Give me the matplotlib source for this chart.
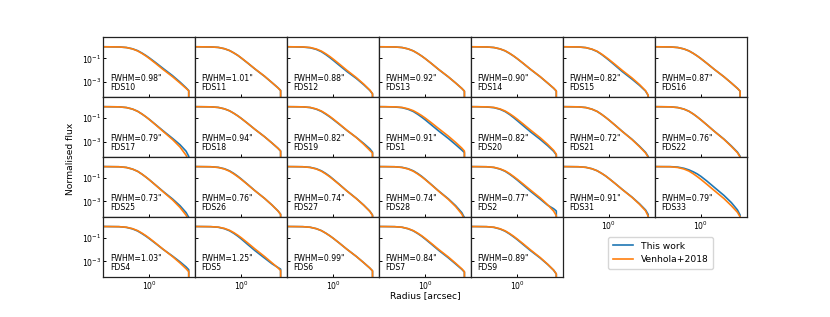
import numpy as np
import matplotlib
matplotlib.use("Agg")
import matplotlib.pyplot as plt

# Shared radius grid [arcsec]; last point repeats to draw the vertical drop
radius = [0.2, 0.3, 0.4, 0.5, 0.6, 0.7, 0.8, 0.9, 1.0, 1.2, 1.5, 2.0, 2.5, 3.0, 3.25, 3.25]

fields = ["FDS10", "FDS11", "FDS12", "FDS13", "FDS14", "FDS15", "FDS16",
          "FDS17", "FDS18", "FDS19", "FDS1", "FDS20", "FDS21", "FDS22",
          "FDS25", "FDS26", "FDS27", "FDS28", "FDS2", "FDS31", "FDS33",
          "FDS4", "FDS5", "FDS6", "FDS7", "FDS9"]

fwhm = [0.98, 1.01, 0.88, 0.92, 0.90, 0.82, 0.87,
        0.79, 0.94, 0.82, 0.91, 0.82, 0.72, 0.76,
        0.73, 0.76, 0.74, 0.74, 0.77, 0.91, 0.79,
        1.03, 1.25, 0.99, 0.84, 0.89]

# log10 of normalised flux, Venhola+2018
logflux_venhola = [
    [0, -0.01, -0.02, -0.07, -0.19, -0.36, -0.58, -0.80, -1.02, -1.43, -1.95, -2.58, -3.12, -3.58, -3.79, -8],
    [0, -0.01, -0.02, -0.06, -0.17, -0.33, -0.54, -0.75, -0.97, -1.38, -1.90, -2.53, -3.08, -3.54, -3.77, -8],
    [0, -0.01, -0.02, -0.07, -0.20, -0.38, -0.61, -0.84, -1.07, -1.49, -2.02, -2.66, -3.22, -3.73, -4.05, -8],
    [0, -0.01, -0.02, -0.07, -0.19, -0.36, -0.58, -0.80, -1.02, -1.43, -1.95, -2.58, -3.12, -3.58, -3.82, -8],
    [0, -0.01, -0.02, -0.07, -0.19, -0.35, -0.57, -0.79, -1.01, -1.42, -1.94, -2.57, -3.11, -3.56, -3.81, -8],
    [0, -0.01, -0.02, -0.08, -0.21, -0.39, -0.63, -0.87, -1.10, -1.52, -2.05, -2.69, -3.25, -3.78, -4.17, -8],
    [0, -0.01, -0.02, -0.07, -0.19, -0.36, -0.58, -0.80, -1.02, -1.43, -1.95, -2.58, -3.12, -3.58, -3.82, -8],
    [0, -0.01, -0.02, -0.08, -0.21, -0.40, -0.64, -0.88, -1.12, -1.56, -2.12, -2.83, -3.47, -4.18, -4.67, -8],
    [0, -0.01, -0.02, -0.07, -0.19, -0.36, -0.58, -0.80, -1.02, -1.43, -1.95, -2.58, -3.12, -3.58, -3.82, -8],
    [0, -0.01, -0.02, -0.07, -0.20, -0.38, -0.61, -0.84, -1.07, -1.49, -2.02, -2.66, -3.24, -3.76, -3.99, -8],
    [0, -0.01, -0.02, -0.07, -0.19, -0.35, -0.56, -0.77, -0.98, -1.38, -1.89, -2.53, -3.08, -3.56, -3.82, -8],
    [0, -0.01, -0.02, -0.07, -0.20, -0.38, -0.61, -0.84, -1.07, -1.49, -2.02, -2.67, -3.24, -3.76, -4.09, -8],
    [0, -0.01, -0.02, -0.08, -0.22, -0.41, -0.66, -0.91, -1.15, -1.59, -2.15, -2.83, -3.44, -3.98, -4.35, -8],
    [0, -0.01, -0.02, -0.08, -0.21, -0.40, -0.64, -0.89, -1.13, -1.57, -2.13, -2.81, -3.42, -3.96, -4.33, -8],
    [0, -0.01, -0.02, -0.08, -0.22, -0.41, -0.66, -0.91, -1.15, -1.60, -2.16, -2.87, -3.52, -4.18, -4.62, -8],
    [0, -0.01, -0.02, -0.08, -0.21, -0.40, -0.64, -0.88, -1.11, -1.54, -2.08, -2.73, -3.30, -3.82, -4.12, -8],
    [0, -0.01, -0.02, -0.08, -0.21, -0.40, -0.64, -0.88, -1.12, -1.55, -2.10, -2.76, -3.33, -3.86, -4.19, -8],
    [0, -0.01, -0.02, -0.08, -0.21, -0.40, -0.64, -0.88, -1.12, -1.56, -2.12, -2.81, -3.44, -4.08, -4.52, -8],
    [0, -0.01, -0.02, -0.07, -0.20, -0.38, -0.61, -0.85, -1.08, -1.50, -2.03, -2.69, -3.28, -3.83, -4.22, -8],
    [0, -0.01, -0.02, -0.07, -0.19, -0.36, -0.58, -0.80, -1.03, -1.45, -1.99, -2.65, -3.24, -3.80, -4.27, -8],
    [0, -0.01, -0.02, -0.08, -0.21, -0.39, -0.63, -0.87, -1.10, -1.53, -2.07, -2.75, -3.37, -3.93, -4.32, -8],
    [0, -0.01, -0.02, -0.07, -0.19, -0.36, -0.58, -0.80, -1.02, -1.43, -1.95, -2.59, -3.14, -3.63, -3.89, -8],
    [0, -0.01, -0.02, -0.06, -0.17, -0.33, -0.54, -0.76, -0.98, -1.40, -1.93, -2.58, -3.12, -3.56, -3.79, -8],
    [0, -0.01, -0.02, -0.07, -0.19, -0.36, -0.58, -0.80, -1.02, -1.43, -1.95, -2.58, -3.12, -3.58, -3.82, -8],
    [0, -0.01, -0.02, -0.07, -0.19, -0.36, -0.58, -0.80, -1.03, -1.45, -1.98, -2.62, -3.17, -3.64, -3.89, -8],
    [0, -0.01, -0.02, -0.07, -0.20, -0.38, -0.61, -0.84, -1.07, -1.49, -2.02, -2.67, -3.24, -3.76, -4.07, -8],
]

# log10 of normalised flux, this work
logflux_this = [
    [0, -0.01, -0.02, -0.07, -0.18, -0.34, -0.55, -0.76, -0.97, -1.36, -1.86, -2.49, -3.04, -3.53, -3.77, -8],
    [0, -0.01, -0.02, -0.06, -0.17, -0.33, -0.54, -0.75, -0.98, -1.39, -1.91, -2.54, -3.08, -3.53, -3.76, -8],
    [0, -0.01, -0.03, -0.09, -0.23, -0.43, -0.68, -0.93, -1.17, -1.60, -2.12, -2.73, -3.27, -3.76, -4.05, -8],
    [0, -0.01, -0.02, -0.07, -0.19, -0.36, -0.58, -0.80, -1.02, -1.43, -1.96, -2.59, -3.12, -3.58, -3.82, -8],
    [0, -0.01, -0.02, -0.07, -0.19, -0.36, -0.58, -0.80, -1.02, -1.43, -1.95, -2.58, -3.12, -3.57, -3.81, -8],
    [0, -0.01, -0.02, -0.08, -0.22, -0.41, -0.66, -0.92, -1.16, -1.60, -2.15, -2.79, -3.32, -3.81, -4.19, -8],
    [0, -0.01, -0.02, -0.07, -0.19, -0.36, -0.58, -0.80, -1.02, -1.43, -1.95, -2.58, -3.12, -3.58, -3.82, -8],
    [0, -0.01, -0.02, -0.08, -0.21, -0.40, -0.64, -0.88, -1.11, -1.54, -2.07, -2.73, -3.27, -3.83, -4.27, -8],
    [0, -0.01, -0.02, -0.07, -0.19, -0.36, -0.58, -0.80, -1.02, -1.43, -1.95, -2.58, -3.12, -3.58, -3.82, -8],
    [0, -0.01, -0.02, -0.08, -0.22, -0.41, -0.65, -0.88, -1.11, -1.52, -2.04, -2.65, -3.17, -3.63, -3.92, -8],
    [0, -0.01, -0.03, -0.09, -0.23, -0.42, -0.66, -0.90, -1.13, -1.56, -2.09, -2.73, -3.27, -3.73, -3.95, -8],
    [0, -0.01, -0.03, -0.09, -0.23, -0.43, -0.68, -0.94, -1.19, -1.63, -2.17, -2.81, -3.35, -3.84, -4.15, -8],
    [0, -0.01, -0.02, -0.08, -0.22, -0.41, -0.66, -0.91, -1.15, -1.59, -2.14, -2.81, -3.40, -3.93, -4.29, -8],
    [0, -0.01, -0.02, -0.08, -0.21, -0.40, -0.64, -0.89, -1.13, -1.57, -2.12, -2.79, -3.38, -3.91, -4.27, -8],
    [0, -0.01, -0.02, -0.08, -0.22, -0.41, -0.66, -0.91, -1.15, -1.59, -2.13, -2.79, -3.37, -3.96, -4.37, -8],
    [0, -0.01, -0.02, -0.07, -0.19, -0.37, -0.60, -0.84, -1.08, -1.52, -2.07, -2.73, -3.30, -3.81, -4.10, -8],
    [0, -0.01, -0.02, -0.07, -0.19, -0.37, -0.60, -0.84, -1.09, -1.53, -2.09, -2.75, -3.32, -3.84, -4.17, -8],
    [0, -0.01, -0.02, -0.07, -0.19, -0.37, -0.60, -0.84, -1.09, -1.54, -2.10, -2.77, -3.37, -3.96, -4.39, -8],
    [0, -0.01, -0.02, -0.08, -0.22, -0.41, -0.66, -0.91, -1.15, -1.59, -2.13, -2.79, -3.32, -3.63, -3.82, -8],
    [0, -0.01, -0.02, -0.07, -0.19, -0.36, -0.58, -0.80, -1.03, -1.45, -1.98, -2.63, -3.20, -3.73, -4.12, -8],
    [0, -0.01, -0.01, -0.05, -0.15, -0.29, -0.46, -0.64, -0.84, -1.25, -1.79, -2.48, -3.10, -3.73, -4.17, -8],
    [0, -0.01, -0.02, -0.08, -0.21, -0.39, -0.62, -0.84, -1.06, -1.46, -1.96, -2.55, -3.04, -3.48, -3.72, -8],
    [0, -0.01, -0.02, -0.07, -0.19, -0.37, -0.60, -0.84, -1.08, -1.53, -2.07, -2.71, -3.20, -3.53, -3.67, -8],
    [0, -0.01, -0.02, -0.07, -0.19, -0.36, -0.58, -0.80, -1.02, -1.43, -1.95, -2.58, -3.12, -3.58, -3.82, -8],
    [0, -0.01, -0.02, -0.07, -0.20, -0.38, -0.61, -0.84, -1.08, -1.51, -2.05, -2.69, -3.23, -3.68, -3.92, -8],
    [0, -0.01, -0.02, -0.08, -0.22, -0.41, -0.65, -0.89, -1.12, -1.55, -2.08, -2.71, -3.26, -3.76, -4.09, -8],
]

C_THIS = "#1f77b4"
C_VEN = "#ff7f0e"

fig, axes = plt.subplots(4, 7, figsize=(8.3, 3.17), dpi=100, sharex=True, sharey=True)
fig.subplots_adjust(left=0.1245, right=0.8995, top=0.882, bottom=0.126, wspace=0, hspace=0)

r = np.array(radius)
for i, ax in enumerate(axes.flat):
    if i >= len(fields):
        ax.set_visible(False)
        continue
    ax.plot(r, 10 ** np.array(logflux_this[i]), color=C_THIS, lw=1.2, label="This work")
    ax.plot(r, 10 ** np.array(logflux_venhola[i]), color=C_VEN, lw=1.2, label="Venhola+2018")
    ax.text(0.07, 0.09, 'FWHM=%.2f"\n%s' % (fwhm[i], fields[i]), transform=ax.transAxes,
            ha="left", va="bottom", fontsize=5.6, linespacing=1.0)
    for s in ax.spines.values():
        s.set_linewidth(0.9)
        s.set_color("#222222")

ax0 = axes[0, 0]
ax0.set_xscale("log")
ax0.set_yscale("log")
ax0.set_xlim(0.25, 3.95)
ax0.set_ylim(10 ** -4.35, 10 ** 0.8)
ax0.set_yticks([1e-1, 1e-3])
ax0.set_yticks([], minor=True)
ax0.set_xticks([1.0])
ax0.set_xticks([], minor=True)
ax0.set_yticklabels([r"$10^{-1}$", r"$10^{-3}$"])
ax0.set_xticklabels([r"$10^{0}$"])

for ax in axes.flat:
    ax.tick_params(direction="in", length=2.5, width=0.7, labelsize=5.6, pad=1.5)
    ax.minorticks_off()

for c in (5, 6):
    axes[2, c].xaxis.set_tick_params(labelbottom=True)

handles, labels = axes[0, 0].get_legend_handles_labels()
fig.legend(handles, labels, loc="center", bbox_to_anchor=(0.796, 0.202), fontsize=6.6,
           frameon=True, handlelength=2.2, borderpad=0.5, labelspacing=0.5)

fig.text(0.085, 0.50, "Normalised flux", rotation=90, ha="center", va="center", fontsize=6.6)
fig.text(0.512, 0.066, "Radius [arcsec]", ha="center", va="center", fontsize=6.6)

fig.savefig("out.png", dpi=100)
